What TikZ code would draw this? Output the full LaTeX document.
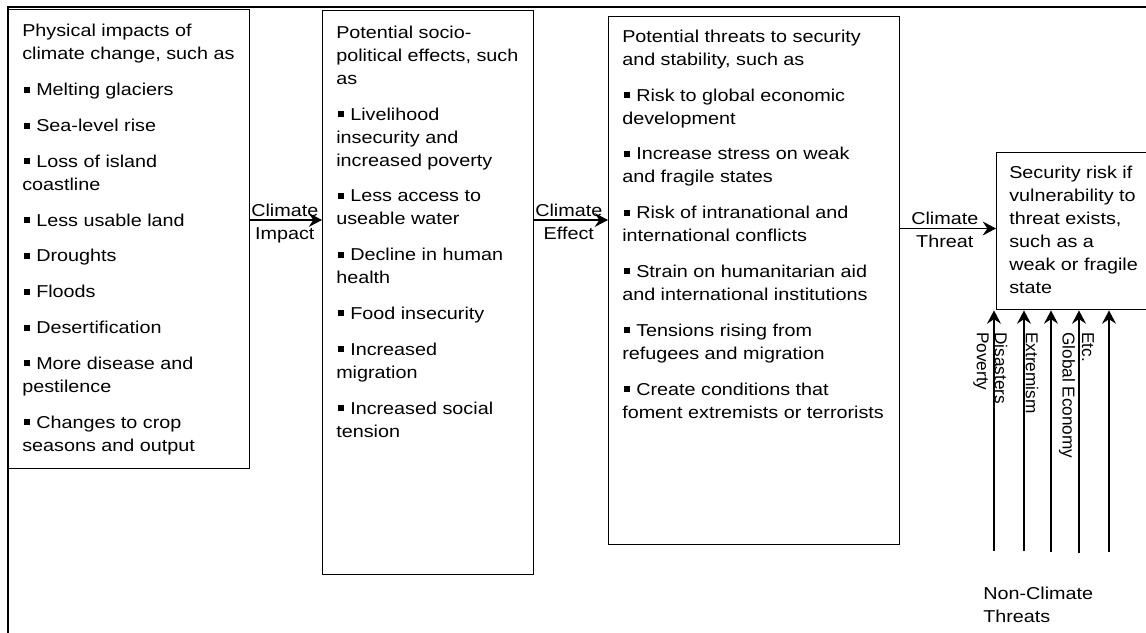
\documentclass[tikz,border=0pt]{standalone}
\usepackage{fontspec}
\setmainfont{Liberation Sans}[FakeStretch=1.15]
\newfontfamily\plainsans{Liberation Sans}
\usetikzlibrary{arrows.meta}
\newcommand\fs{\fontsize{12.9pt}{17.25pt}\selectfont}
\newcommand\bul{\hspace*{1.5pt}\rule[2.25pt]{4.5pt}{4.5pt}\hspace{4.5pt}}
\newcommand\strt{\rule{0pt}{12pt}}
\newcommand\pg{\\[9.6pt]}
\tikzset{
  frame/.style={line width=1.6pt},
  box/.style={draw, line width=1.1pt, inner sep=0pt, anchor=north west},
  txt/.style={anchor=north west, inner sep=0pt, align=left, font=\fs},
  lbl/.style={inner sep=0pt, align=center, font=\fs, anchor=west},
  arr/.style={-{Stealth[length=10pt,width=10.5pt,inset=3.5pt]}, line width=0.8pt},
  rlbl/.style={rotate=-90, anchor=west, inner sep=0pt, font=\plainsans\fs}
}
\begin{document}
\begin{tikzpicture}[x=0.75pt,y=-0.75pt]
\useasboundingbox (0,0) rectangle (1146,632);
\draw[frame] (8,645) -- (8,7) -- (1160,7);
% boxes
\node[box, minimum width=180.75pt, minimum height=344.25pt] (b1) at (8,9) {};
\node[box, minimum width=158.25pt, minimum height=423pt] (b2) at (322,10) {};
\node[box, minimum width=218.25pt, minimum height=396pt] (b3) at (608,16) {};
\node[box, minimum width=120pt, minimum height=117.75pt] (b4) at (996,152) {};
% texts
\node[txt] (t1) at (22,20.7) {\strt Physical impacts of\\climate change, such as\pg
\bul Melting glaciers\pg
\bul Sea-level rise\pg
\bul Loss of island\\coastline\pg
\bul Less usable land\pg
\bul Droughts\pg
\bul Floods\pg
\bul Desertification\pg
\bul More disease and\\pestilence\pg
\bul Changes to crop\\seasons and output};
\node[txt] (t2) at (336,22) {\strt Potential socio-\\political effects, such\\as\pg
\bul Livelihood\\insecurity and\\increased poverty\pg
\bul Less access to\\useable water\pg
\bul Decline in human\\health\pg
\bul Food insecurity\pg
\bul Increased\\migration\pg
\bul Increased social\\tension};
\node[txt] (t3) at (622,26) {\strt Potential threats to security\\and stability, such as\pg
\bul Risk to global economic\\development\pg
\bul Increase stress on weak\\and fragile states\pg
\bul Risk of intranational and\\international conflicts\pg
\bul Strain on humanitarian aid\\and international institutions\pg
\bul Tensions rising from\\refugees and migration\pg
\bul Create conditions that\\foment extremists or terrorists};
\node[txt] (t4) at (1009,162) {\strt Security risk if\\vulnerability to\\threat exists,\\such as a\\weak or fragile\\state};
% climate arrows
\coordinate (a1) at (0,220);
\coordinate (a2) at (0,220);
\coordinate (a3) at (0,228.5);
\draw[arr] (b1.east |- a1) -- (b2.west |- a1);
\draw[arr] (b2.east |- a2) -- (b3.west |- a2);
\draw[arr] (b3.east |- a3) -- (b4.west |- a3);
\node[lbl] (l1) at (251,223.7) {Climate\\Impact};
\node[lbl] (l2) at (535,222) {Climate\\Effect};
\node[lbl] (l3) at (911,230.2) {Climate\\Threat};
% non-climate arrows
\coordinate (n1) at (994,551);
\coordinate (n2) at (1024,551);
\coordinate (n3) at (1051,552);
\coordinate (n4) at (1079,553);
\coordinate (n5) at (1109,552);
\foreach \n in {n1,n2,n3,n4,n5} \draw[arr] (\n) -- (\n |- b4.south);
\node[rlbl] (r1) at (981,332) {Poverty};
\node[rlbl] (r2) at (1001,332) {Disasters};
\node[rlbl] (r3) at (1032,332) {Extremism};
\node[rlbl] (r4) at (1067,332) {Global Economy};
\node[rlbl] (r5) at (1088,332) {Etc.};
\node[txt] (nc) at (983,583) {\strt Non-Climate\\Threats};
\end{tikzpicture}
\end{document}
